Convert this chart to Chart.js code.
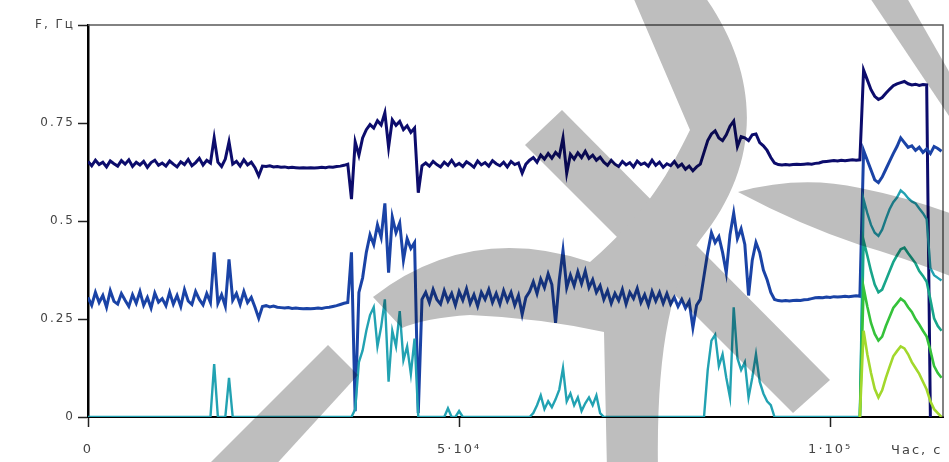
<!DOCTYPE html>
<html>
<head>
<meta charset="utf-8">
<script src="https://cdn.jsdelivr.net/npm/chart.js@4/dist/chart.umd.min.js"></script>
<style>
  html, body { margin: 0; padding: 0; background: #ffffff; }
  #wrap { width: 949px; height: 462px; position: relative; }
</style>
</head>
<body>
<div id="wrap"><canvas id="chart" width="949" height="462"></canvas></div>
<script>
// Sampling interval of the recorded frequency tracks, seconds
const SAMPLE_STEP = 500;

// Track 1: upper frequency component, Hz (samples 0 .. 230)
const f1 = [
  0.652, 0.641, 0.655, 0.644, 0.650, 0.638, 0.653, 0.646, 0.640, 0.654,
  0.645, 0.656, 0.639, 0.650, 0.643, 0.652, 0.637, 0.649, 0.655, 0.642,
  0.648, 0.640, 0.653, 0.645, 0.638, 0.651, 0.644, 0.657, 0.641, 0.649,
  0.660, 0.643, 0.655, 0.648, 0.712, 0.650, 0.639, 0.658, 0.702, 0.645,
  0.652, 0.640, 0.656, 0.643, 0.650, 0.636, 0.615, 0.640, 0.639, 0.641,
  0.638, 0.639, 0.637, 0.638, 0.636, 0.637, 0.636, 0.635, 0.636, 0.635,
  0.636, 0.635, 0.636, 0.637, 0.636, 0.638, 0.637, 0.639, 0.640, 0.642,
  0.645, 0.556, 0.702, 0.668, 0.712, 0.733, 0.746, 0.737, 0.756, 0.745,
  0.776, 0.688, 0.758, 0.744, 0.754, 0.733, 0.743, 0.726, 0.737, 0.572,
  0.641, 0.648, 0.640, 0.652, 0.644, 0.638, 0.650, 0.642, 0.655, 0.641,
  0.647, 0.639, 0.651, 0.645, 0.637, 0.653, 0.643, 0.649, 0.640, 0.654,
  0.646, 0.641, 0.650, 0.638, 0.652, 0.644, 0.648, 0.622, 0.645, 0.655,
  0.662, 0.650, 0.668, 0.658, 0.672, 0.660, 0.675, 0.665, 0.712, 0.622,
  0.670, 0.658, 0.674, 0.662, 0.678, 0.660, 0.668, 0.655, 0.663, 0.650,
  0.642, 0.655, 0.645, 0.639, 0.652, 0.643, 0.649, 0.638, 0.653, 0.644,
  0.648, 0.640, 0.655, 0.642, 0.650, 0.637, 0.646, 0.641, 0.652, 0.638,
  0.645, 0.632, 0.640, 0.628, 0.638, 0.645, 0.675, 0.705, 0.722, 0.730,
  0.712, 0.705, 0.720, 0.742, 0.755, 0.690, 0.715, 0.712, 0.705, 0.720,
  0.722, 0.700, 0.692, 0.680, 0.662, 0.648, 0.644, 0.643, 0.644, 0.643,
  0.644, 0.645, 0.644, 0.645, 0.646, 0.645, 0.647, 0.648, 0.651, 0.652,
  0.653, 0.654, 0.653, 0.655, 0.654, 0.655, 0.656, 0.655, 0.656, 0.885,
  0.860, 0.835, 0.818, 0.810, 0.815, 0.826, 0.836, 0.845, 0.850, 0.853,
  0.856, 0.850, 0.847, 0.849, 0.846, 0.848, 0.847, 0.000, null,  null,
  null
];

// Track 2: second component, Hz
const f2 = [
  0.305, 0.285, 0.318, 0.292, 0.310, 0.280, 0.322, 0.295, 0.288, 0.315,
  0.298, 0.282, 0.312, 0.290, 0.320, 0.285, 0.305, 0.278, 0.316, 0.293,
  0.302, 0.284, 0.318, 0.288, 0.310, 0.282, 0.325, 0.296, 0.287, 0.320,
  0.300, 0.286, 0.315, 0.292, 0.420, 0.290, 0.312, 0.283, 0.402, 0.298,
  0.315, 0.287, 0.320, 0.292, 0.305, 0.280, 0.252, 0.282, 0.284, 0.281,
  0.283, 0.280, 0.279, 0.278, 0.279, 0.277, 0.278, 0.277, 0.276, 0.277,
  0.276, 0.277, 0.278, 0.277, 0.279, 0.280, 0.282, 0.284, 0.287, 0.290,
  0.292, 0.420, 0.015, 0.318, 0.355, 0.420, 0.465, 0.440, 0.490, 0.458,
  0.545, 0.368, 0.510, 0.470, 0.495, 0.400, 0.455, 0.430, 0.445, 0.010,
  0.300, 0.318, 0.292, 0.325, 0.300, 0.288, 0.322, 0.296, 0.315, 0.285,
  0.320, 0.298, 0.327, 0.290, 0.312, 0.283, 0.318, 0.300, 0.325, 0.292,
  0.315, 0.288, 0.322, 0.296, 0.318, 0.285, 0.310, 0.262, 0.305, 0.320,
  0.345, 0.315, 0.352, 0.330, 0.365, 0.338, 0.240, 0.350, 0.425, 0.330,
  0.362, 0.335, 0.370, 0.340, 0.372, 0.330, 0.350, 0.318, 0.335, 0.300,
  0.322, 0.290, 0.315, 0.297, 0.325, 0.288, 0.318, 0.302, 0.328, 0.292,
  0.312, 0.285, 0.320, 0.296, 0.318, 0.290, 0.315, 0.288, 0.305, 0.282,
  0.300, 0.278, 0.295, 0.228, 0.285, 0.300, 0.360, 0.420, 0.470, 0.445,
  0.460, 0.420, 0.368, 0.465, 0.520, 0.455, 0.480, 0.440, 0.310, 0.400,
  0.445, 0.420, 0.375, 0.350, 0.318, 0.300, 0.297, 0.296, 0.297, 0.296,
  0.297, 0.298, 0.297, 0.299, 0.300, 0.302, 0.304, 0.305, 0.304, 0.306,
  0.305, 0.307, 0.306, 0.307, 0.308, 0.307, 0.308, 0.309, 0.308, 0.680,
  0.655, 0.630, 0.605, 0.598, 0.612, 0.632, 0.652, 0.672, 0.690, 0.712,
  0.700, 0.688, 0.692, 0.680, 0.688, 0.675, 0.684, 0.672, 0.690, 0.685,
  0.678
];

// Track 3: third component, Hz (zero while absent)
const f3 = [
  0, 0, 0, 0, 0, 0, 0, 0, 0, 0,
  0, 0, 0, 0, 0, 0, 0, 0, 0, 0,
  0, 0, 0, 0, 0, 0, 0, 0, 0, 0,
  0, 0, 0, 0, 0.135, 0, 0, 0, 0.100, 0,
  0, 0, 0, 0, 0, 0, 0, 0, 0, 0,
  0, 0, 0, 0, 0, 0, 0, 0, 0, 0,
  0, 0, 0, 0, 0, 0, 0, 0, 0, 0,
  0, 0, 0.020, 0.140, 0.170, 0.220, 0.260, 0.280, 0.180, 0.230,
  0.300, 0.090, 0.220, 0.180, 0.270, 0.145, 0.180, 0.110, 0.200, 0,
  0, 0, 0, 0, 0, 0, 0, 0.022, 0, 0,
  0.015, 0, 0, 0, 0, 0, 0, 0, 0, 0,
  0, 0, 0, 0, 0, 0, 0, 0, 0, 0,
  0.010, 0.030, 0.055, 0.020, 0.040, 0.025, 0.045, 0.070, 0.125, 0.040,
  0.060, 0.030, 0.050, 0.015, 0.035, 0.050, 0.030, 0.055, 0.010, 0,
  0, 0, 0, 0, 0, 0, 0, 0, 0, 0,
  0, 0, 0, 0, 0, 0, 0, 0, 0, 0,
  0, 0, 0, 0, 0, 0, 0, 0.120, 0.195, 0.210,
  0.130, 0.160, 0.100, 0.050, 0.280, 0.150, 0.120, 0.140, 0.050, 0.100,
  0.160, 0.090, 0.060, 0.040, 0.030, 0, 0, 0, 0, 0,
  0, 0, 0, 0, 0, 0, 0, 0, 0, 0,
  0, 0, 0, 0, 0, 0, 0, 0, 0, 0.555,
  0.520, 0.490, 0.470, 0.462, 0.478, 0.505, 0.530, 0.548, 0.560, 0.578,
  0.570, 0.558, 0.550, 0.545, 0.532, 0.520, 0.505, 0.380, 0.362, 0.355,
  0.348
];

// Higher components, present only in the last segment (from sample 208)
const LATE_START = 208;
const f4 = [0, 0.450, 0.412, 0.372, 0.338, 0.318, 0.325, 0.348, 0.372, 0.395, 0.412, 0.428,
            0.432, 0.418, 0.405, 0.392, 0.372, 0.360, 0.345, 0.300, 0.252, 0.232, 0.220];
const f5 = [0, 0.330, 0.282, 0.240, 0.212, 0.195, 0.205, 0.232, 0.255, 0.278, 0.290, 0.302,
            0.295, 0.280, 0.268, 0.250, 0.236, 0.220, 0.205, 0.170, 0.130, 0.112, 0.100];
const f6 = [0, 0.220, 0.160, 0.112, 0.072, 0.050, 0.068, 0.100, 0.128, 0.155, 0.168, 0.180,
            0.175, 0.160, 0.140, 0.125, 0.110, 0.090, 0.070, 0.040, 0.020, 0.010, 0];

// Axis ticks
const xTicks = [0, 50000, 100000];
const xTickLabels = ['0', '5·10⁴', '1·10⁵'];
const yTicks = [0, 0.25, 0.5, 0.75, 1];
const yTickLabels = ['0', '0.25', '0.5', '0.75', 'F, Гц'];
const xTitle = 'Час, с';

function toPoints(values, start) {
  return values.map((v, i) => ({ x: (start + i) * SAMPLE_STEP, y: v }));
}

const series = [
  { label: 'F1', values: f1, start: 0, color: '#0c0c6c', width: 3 },
  { label: 'F2', values: f2, start: 0, color: '#1a43a6', width: 3 },
  { label: 'F3', values: f3, start: 0, color: '#22a2b2', width: 2.4 },
  { label: 'F4', values: f4, start: LATE_START, color: '#18a58a', width: 2.6 },
  { label: 'F5', values: f5, start: LATE_START, color: '#35c23a', width: 2.6 },
  { label: 'F6', values: f6, start: LATE_START, color: '#a2d82c', width: 2.6 }
];

const FAMILY = '"DejaVu Sans", "Liberation Sans", Arial, sans-serif';
const Y_FONT = { family: FAMILY, size: 12 };
const X_FONT = { family: FAMILY, size: 13 };
const TEXT_COLOR = '#444444';
const LETTER_SPACING = '2px';

// Frame lines on the top and right of the plot area, plus the axis title on the tick row
const framePlugin = {
  id: 'frame',
  beforeDraw(chart) {
    chart.ctx.letterSpacing = LETTER_SPACING;
  },
  afterDatasetsDraw(chart) {
    const { ctx, chartArea: a } = chart;
    ctx.save();
    ctx.strokeStyle = '#5a5a5a';
    ctx.lineWidth = 1.5;
    ctx.beginPath();
    ctx.moveTo(a.left, a.top);
    ctx.lineTo(a.right, a.top);
    ctx.lineTo(a.right, a.bottom);
    ctx.stroke();
    ctx.restore();
  },
  afterDraw(chart) {
    const { ctx, chartArea: a } = chart;
    ctx.save();
    ctx.letterSpacing = LETTER_SPACING;
    ctx.font = X_FONT.size + 'px ' + FAMILY;
    ctx.fillStyle = TEXT_COLOR;
    ctx.textAlign = 'left';
    ctx.textBaseline = 'middle';
    ctx.fillText(xTitle, a.right - 52, a.bottom + 34);
    ctx.restore();
  }
};

// Broad grey brush strokes laid over the plot as one flat layer
const strokesPlugin = {
  id: 'strokes',
  afterDraw(chart) {
    const layer = document.createElement('canvas');
    layer.width = chart.width;
    layer.height = chart.height;
    const g = layer.getContext('2d');
    g.fillStyle = '#bebebe';
    // lower-left diagonal bar
    g.beginPath();
    g.moveTo(328, 345); g.lineTo(358, 375); g.lineTo(271, 470); g.lineTo(203, 470);
    g.closePath(); g.fill();
    // long diagonal bar through the middle
    g.beginPath();
    g.moveTo(525, 145); g.lineTo(562, 110); g.lineTo(830, 380); g.lineTo(793, 413);
    g.closePath(); g.fill();
    // large S-shaped stroke from the top edge down to the bottom edge, with its arc branch
    g.beginPath();
    g.moveTo(373, 297);
    g.quadraticCurveTo(470, 222, 590, 262);
    g.bezierCurveTo(650, 210, 670, 170, 690, 130);
    g.lineTo(630, -10);
    g.lineTo(700, -10);
    g.bezierCurveTo(760, 70, 765, 160, 700, 240);
    g.quadraticCurveTo(655, 300, 658, 470);
    g.lineTo(607, 470);
    g.lineTo(604, 332);
    g.quadraticCurveTo(540, 318, 470, 315);
    g.quadraticCurveTo(425, 318, 402, 328);
    g.closePath();
    g.fill();
    // right sweeping band
    g.beginPath();
    g.moveTo(738, 192);
    g.quadraticCurveTo(800, 175, 860, 188);
    g.quadraticCurveTo(910, 198, 955, 215);
    g.lineTo(955, 278);
    g.quadraticCurveTo(905, 258, 860, 245);
    g.quadraticCurveTo(800, 225, 738, 192);
    g.closePath();
    g.fill();
    // top-right bar
    g.beginPath();
    g.moveTo(870, -2); g.lineTo(907, -2); g.lineTo(955, 82); g.lineTo(955, 125);
    g.closePath(); g.fill();

    const ctx = chart.ctx;
    ctx.save();
    ctx.globalCompositeOperation = 'multiply';
    ctx.drawImage(layer, 0, 0);
    ctx.restore();
  }
};

new Chart(document.getElementById('chart'), {
  type: 'line',
  data: {
    datasets: series.map(s => ({
      label: s.label,
      data: toPoints(s.values, s.start),
      borderColor: s.color,
      backgroundColor: s.color,
      borderWidth: s.width,
      pointRadius: 0,
      tension: 0,
      spanGaps: false
    })).reverse()
  },
  options: {
    responsive: false,
    animation: false,
    devicePixelRatio: 1,
    layout: { padding: { top: 25, right: 6, left: 0, bottom: 0 } },
    plugins: { legend: { display: false }, tooltip: { enabled: false } },
    scales: {
      x: {
        type: 'linear',
        min: 0,
        max: 115200,
        z: 1,
        afterBuildTicks: s => { s.ticks = xTicks.map(v => ({ value: v })); },
        afterFit: s => { s.height = 45; },
        ticks: {
          autoSkip: false,
          maxRotation: 0,
          padding: 15,
          color: TEXT_COLOR,
          font: X_FONT,
          callback: v => xTickLabels[xTicks.indexOf(v)]
        },
        grid: { drawOnChartArea: false, drawTicks: true, tickLength: 10, tickColor: '#222', tickWidth: 1.5 },
        border: { color: '#000', width: 2 }
      },
      y: {
        min: 0,
        max: 1,
        z: 1,
        afterBuildTicks: s => { s.ticks = yTicks.map(v => ({ value: v })); },
        afterFit: s => { s.width = 88; },
        ticks: {
          autoSkip: false,
          padding: 3,
          color: TEXT_COLOR,
          font: Y_FONT,
          callback: v => yTickLabels[yTicks.indexOf(v)]
        },
        grid: { drawOnChartArea: false, drawTicks: true, tickLength: 10, tickColor: '#222', tickWidth: 1.5 },
        border: { color: '#000', width: 2.5 }
      }
    }
  },
  plugins: [framePlugin, strokesPlugin]
});
</script>
</body>
</html>
